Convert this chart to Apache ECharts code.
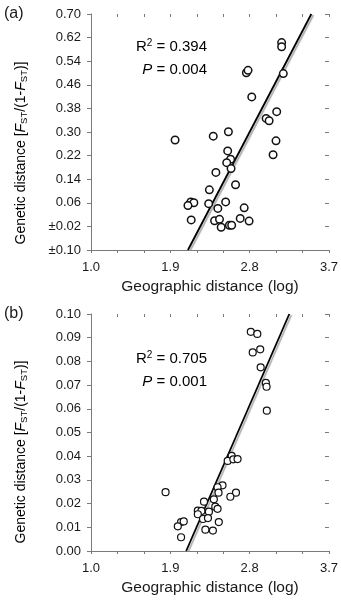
<!DOCTYPE html>
<html>
<head>
<meta charset="utf-8">
<script src="https://cdn.jsdelivr.net/npm/echarts@6/dist/echarts.min.js"></script>
<style>
html,body{margin:0;padding:0;background:#fff;}
#c{width:341px;height:600px;}
</style>
</head>
<body>
<div id="c"></div>
<script>
// ---- Data ----
// Panel (a)
var topGeo = [3.163,3.163,2.763,2.782,3.182,2.824,3.107,2.987,3.021,1.954,2.387,2.559,3.099,3.066,2.551,2.584,2.540,2.589,2.417,2.640,2.343,2.133,2.167,2.100,2.335,2.528,2.439,2.738,2.137,2.402,2.458,2.693,2.794,2.477,2.570,2.596];
var topGen = [0.603,0.589,0.501,0.509,0.498,0.419,0.369,0.346,0.338,0.273,0.286,0.301,0.270,0.223,0.236,0.208,0.196,0.176,0.163,0.121,0.104,0.063,0.060,0.051,0.057,0.063,0.041,0.043,0.002,-0.001,0.004,0.007,-0.002,-0.023,-0.016,-0.016];
var topLineGeo = [2.10, 3.50];
var topLineGen = [-0.10, 0.70];
// Panel (b)
var botGeo = [2.813,2.887,2.835,2.920,2.925,2.984,2.992,2.995,2.596,2.551,2.615,2.663,2.492,2.436,2.447,2.645,2.581,2.394,2.282,2.410,2.436,2.212,2.253,2.338,2.212,2.271,2.327,2.022,2.052,1.985,2.450,2.298,2.383,2.022,1.846];
var botGen = [0.0925,0.0916,0.0838,0.0851,0.0775,0.0709,0.0693,0.0592,0.0401,0.0380,0.0387,0.0388,0.0277,0.0269,0.0246,0.0246,0.0229,0.0218,0.0208,0.0187,0.0178,0.0170,0.0169,0.0166,0.0155,0.0135,0.0139,0.0122,0.0125,0.0104,0.0122,0.0090,0.0086,0.0058,0.0248];
var botLineGeo = [2.08, 3.25];
var botLineGen = [0.00, 0.10];
// Ticks and labels
var xTickValues = [1.0,1.3,1.6,1.9,2.2,2.5,2.8,3.1,3.4,3.7];
var xLabelValues = [1.0,1.9,2.8,3.7];
var topYTickValues = [-0.10,-0.02,0.06,0.14,0.22,0.30,0.38,0.46,0.54,0.62,0.70];
var topYTickLabels = ['±0.10','±0.02','0.06','0.14','0.22','0.30','0.38','0.46','0.54','0.62','0.70'];
var botYTickValues = [0.00,0.01,0.02,0.03,0.04,0.05,0.06,0.07,0.08,0.09,0.10];
var panelLabels = ['(a)','(b)'];
var stats = [['0.394','0.004'],['0.705','0.001']];
var xTitle = 'Geographic distance (log)';

function zip(a,b){ var r=[]; for(var i=0;i<a.length;i++) r.push([a[i],b[i]]); return r; }

var FONT = 'Liberation Sans, Arial, sans-serif';
var AX = '#7a7a7a';
var TXT = '#1a1a1a';

function xAxes(gi){
  return [{
    gridIndex: gi, type:'value', min:1.0, max:3.7,
    axisLine:{show:true, onZero:false, lineStyle:{color:AX, width:1}},
    axisTick:{show:true, inside:false, length:3, customValues:xTickValues, lineStyle:{color:AX}},
    axisLabel:{show:true, customValues:xLabelValues, margin:11, fontSize:13, color:TXT, fontFamily:FONT,
      formatter:function(v){return v.toFixed(1);} },
    splitLine:{show:false},
    name:xTitle, nameLocation:'middle', nameGap:29,
    nameTextStyle:{fontSize:15.5, color:TXT, fontFamily:FONT}
  },{
    gridIndex: gi, type:'value', min:1.0, max:3.7,
    axisLine:{show:false, onZero:false},
    axisTick:{show:true, inside:true, length:3, customValues:xTickValues, lineStyle:{color:AX}},
    axisLabel:{show:false}, splitLine:{show:false}
  }];
}
function yAxes(gi, min, max, ticks, fmt){
  return [{
    gridIndex: gi, type:'value', min:min, max:max,
    axisLine:{show:true, onZero:false, lineStyle:{color:AX, width:1}},
    axisTick:{show:true, inside:false, length:4, customValues:ticks, lineStyle:{color:AX}},
    axisLabel:{show:true, customValues:ticks, margin:10, fontSize:13, color:TXT, fontFamily:FONT, formatter:fmt},
    splitLine:{show:false}
  },{
    gridIndex: gi, type:'value', min:min, max:max,
    axisLine:{show:false, onZero:false},
    axisTick:{show:true, inside:true, length:4, customValues:ticks, lineStyle:{color:AX}},
    axisLabel:{show:false}, splitLine:{show:false}
  }];
}

var topFmt = function(v){
  for (var i=0;i<topYTickValues.length;i++){ if (Math.abs(topYTickValues[i]-v)<1e-6) return topYTickLabels[i]; }
  return '';
};
var botFmt = function(v){ return v.toFixed(2); };

function lineSeries(xi, yi, gx, gy){
  return {
    type:'line', xAxisIndex:xi, yAxisIndex:yi, data:zip(gx,gy), symbol:'none', z:2,
    silent:true, animation:false,
    lineStyle:{color:'#000', width:1.8, shadowColor:'rgba(150,150,150,0.8)', shadowOffsetX:2, shadowOffsetY:1, shadowBlur:1}
  };
}
function scatterSeries(xi, yi, gx, gy, size, bw){
  return {
    type:'scatter', xAxisIndex:xi, yAxisIndex:yi, data:zip(gx,gy), symbol:'circle', symbolSize:size, z:3,
    animation:false,
    itemStyle:{color:'#fff', borderColor:'#111', borderWidth:bw, opacity:1}
  };
}

var richY = {
  n:{fontSize:14, fontFamily:FONT, color:TXT, lineHeight:16},
  i:{fontSize:14, fontFamily:FONT, color:TXT, fontStyle:'italic', lineHeight:16},
  s:{fontSize:9.5, fontFamily:FONT, color:TXT, lineHeight:10, verticalAlign:'bottom'}
};
var yTitleText = '{n|Genetic distance [}{i|F}{s|ST}{n|/(1-}{i|F}{s|ST}{n|)]}';
var richStat = {
  n:{fontSize:15, fontFamily:FONT, color:TXT, lineHeight:18},
  i:{fontSize:15, fontFamily:FONT, color:TXT, fontStyle:'italic', lineHeight:18},
  sup:{fontSize:10, fontFamily:FONT, color:TXT, lineHeight:10, verticalAlign:'top'}
};

function statTexts(yR, yP, st){
  return [{
    type:'text', x:207, y:yR, silent:true,
    style:{text:'{n|R}{sup|2}{n| = '+st[0]+'}', rich:richStat, align:'right', verticalAlign:'middle'}
  },{
    type:'text', x:207, y:yP, silent:true,
    style:{text:'{i|P}{n| = '+st[1]+'}', rich:richStat, align:'right', verticalAlign:'middle'}
  }];
}

var chart = echarts.init(document.getElementById('c'), null, {renderer:'canvas'});
var option = {
  animation:false,
  backgroundColor:'#fff',
  grid:[
    {left:91, right:9, top:14, height:236, containLabel:false},
    {left:91, right:9, top:314, height:237, containLabel:false}
  ],
  xAxis: xAxes(0).concat(xAxes(1)),
  yAxis: yAxes(0,-0.10,0.70,topYTickValues,topFmt).concat(yAxes(1,0,0.10,botYTickValues,botFmt)),
  series:[
    lineSeries(0,0,topLineGeo,topLineGen),
    scatterSeries(0,0,topGeo,topGen,7.5,1.5),
    lineSeries(2,2,botLineGeo,botLineGen),
    scatterSeries(2,2,botGeo,botGen,7,1.2)
  ],
  graphic:[
    {type:'text', x:4, y:14, silent:true, style:{text:panelLabels[0], fontSize:16, fontFamily:FONT, fill:TXT, verticalAlign:'middle'}},
    {type:'text', x:4, y:314, silent:true, style:{text:panelLabels[1], fontSize:16, fontFamily:FONT, fill:TXT, verticalAlign:'middle'}},
    {type:'text', x:21, y:153, rotation:Math.PI/2, silent:true,
      style:{text:yTitleText, rich:richY, align:'center', verticalAlign:'middle'}},
    {type:'text', x:21, y:452, rotation:Math.PI/2, silent:true,
      style:{text:yTitleText, rich:richY, align:'center', verticalAlign:'middle'}}
  ].concat(statTexts(47,69.5,stats[0])).concat(statTexts(359,381.5,stats[1]))
};
chart.setOption(option);
</script>
</body>
</html>
